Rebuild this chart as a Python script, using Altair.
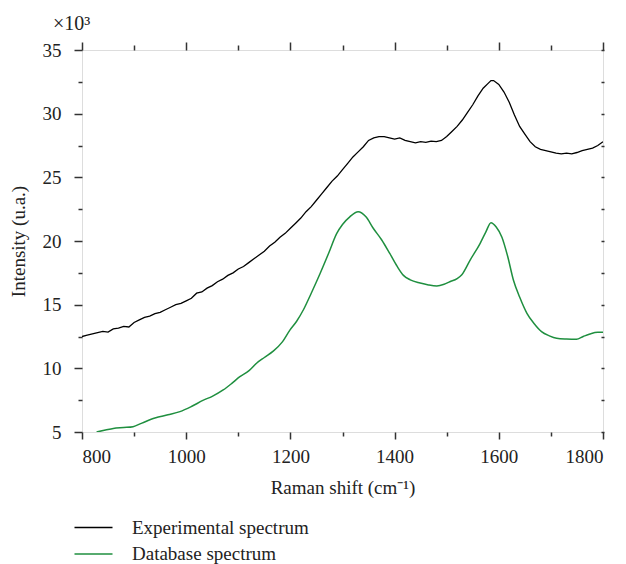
import altair as alt
import pandas as pd

# ---- data ----
exp_x = [800, 810, 820, 830, 840, 850, 860, 870, 880, 890, 900, 910, 920, 930, 940, 950,
         960, 970, 980, 990, 1000, 1010, 1020, 1030, 1040, 1050, 1060, 1070, 1080, 1090,
         1100, 1110, 1120, 1130, 1140, 1150, 1160, 1170, 1180, 1190, 1200, 1210, 1220,
         1230, 1240, 1250, 1260, 1270, 1280, 1290, 1300, 1310, 1320, 1330, 1340, 1350,
         1360, 1370, 1380, 1390, 1400, 1410, 1420, 1430, 1440, 1450, 1460, 1470, 1480,
         1490, 1500, 1510, 1520, 1530, 1540, 1550, 1560, 1570, 1580, 1585, 1590, 1600,
         1610, 1620, 1630, 1640, 1650, 1660, 1670, 1680, 1690, 1700, 1710, 1720, 1730,
         1740, 1750, 1760, 1770, 1780, 1790, 1800]
exp_y = [12.5, 12.6, 12.7, 12.8, 12.9, 12.85, 13.1, 13.15, 13.3, 13.25, 13.6, 13.8, 14.0,
         14.1, 14.3, 14.4, 14.6, 14.8, 15.0, 15.1, 15.3, 15.5, 15.9, 16.0, 16.3, 16.5,
         16.8, 17.0, 17.3, 17.5, 17.8, 18.0, 18.3, 18.6, 18.9, 19.2, 19.6, 19.9, 20.3,
         20.6, 21.0, 21.4, 21.8, 22.3, 22.7, 23.2, 23.7, 24.2, 24.7, 25.1, 25.6, 26.1,
         26.6, 27.0, 27.4, 27.9, 28.1, 28.2, 28.2, 28.1, 28.0, 28.1, 27.9, 27.8, 27.7,
         27.8, 27.75, 27.85, 27.8, 27.9, 28.2, 28.6, 29.0, 29.5, 30.1, 30.7, 31.4, 32.0,
         32.4, 32.6, 32.6, 32.3, 31.7, 30.9, 29.9, 29.0, 28.4, 27.8, 27.4, 27.2, 27.1,
         27.0, 26.9, 26.85, 26.9, 26.85, 26.95, 27.1, 27.2, 27.3, 27.5, 27.8]

db_x = [828, 845, 860, 880, 898, 915, 940, 965, 988, 1010, 1033, 1050, 1071, 1087, 1103,
        1120, 1135, 1150, 1167, 1185, 1199, 1212, 1225, 1240, 1257, 1273, 1289, 1300,
        1314, 1330, 1345, 1359, 1375, 1391, 1405, 1417, 1430, 1449, 1465, 1481, 1495,
        1506, 1520, 1529, 1545, 1564, 1575, 1585, 1595, 1606, 1617, 1628, 1640, 1654,
        1668, 1682, 1697, 1711, 1730, 1749, 1762, 1775, 1790, 1800]
db_y = [5.0, 5.15, 5.28, 5.35, 5.42, 5.7, 6.1, 6.35, 6.6, 7.0, 7.5, 7.8, 8.3, 8.8, 9.35,
        9.8, 10.4, 10.85, 11.35, 12.1, 13.0, 13.7, 14.6, 15.9, 17.45, 19.0, 20.6, 21.3,
        21.9, 22.3, 21.9, 21.0, 20.1, 19.0, 18.0, 17.3, 16.95, 16.7, 16.55, 16.47, 16.6,
        16.8, 17.05, 17.35, 18.5, 19.8, 20.7, 21.44, 21.1, 20.3, 18.8, 16.94, 15.6, 14.32,
        13.5, 12.88, 12.55, 12.36, 12.3, 12.28, 12.5, 12.7, 12.83, 12.83]

series_names = ["Experimental spectrum", "Database spectrum"]
series_colors = ["#000000", "#1f8f3f"]

x_ticks = list(range(800, 1801, 100))
y_ticks = [5 + 2.5 * i for i in range(13)]

df_exp = pd.DataFrame({"x": exp_x, "y": exp_y, "series": series_names[0]})
df_db = pd.DataFrame({"x": db_x, "y": db_y, "series": series_names[1]})

FONT = "Liberation Serif"
TXT = "#222222"
AX = "#333333"

x_scale = alt.Scale(domain=[800, 1800], nice=False, zero=False)
y_scale = alt.Scale(domain=[5, 35], nice=False, zero=False)
color = alt.Color(
    "series:N",
    scale=alt.Scale(domain=series_names, range=series_colors),
    legend=alt.Legend(
        title=None, orient="none", legendX=1, legendY=467,
        symbolType="M-2,0L2,0", symbolSize=361, symbolStrokeWidth=1.5,
        labelFont=FONT, labelFontSize=19, labelColor=TXT, labelOffset=28,
        labelLimit=0, rowPadding=5.5, direction="vertical",
    ),
)

exp_line = alt.Chart(df_exp).mark_line(strokeWidth=1.3, clip=True).encode(
    x=alt.X("x:Q", scale=x_scale, title="Raman shift (cm⁻¹)",
            axis=alt.Axis(orient="bottom", values=x_ticks, grid=False, domain=False,
                          tickSize={"condition": {"test": "datum.value % 200 !== 0", "value": 4}, "value": 7},
                          labelExpr="datum.value % 200 === 0 ? datum.label : ''",
                          format="d", labelPadding=8, titlePadding=12,
                          labelFont=FONT, labelFontSize=19, labelColor=TXT,
                          titleFont=FONT, titleFontSize=19, titleFontWeight="normal", titleColor=TXT,
                          tickColor=AX, tickWidth=1.5)),
    y=alt.Y("y:Q", scale=y_scale, title="Intensity (u.a.)",
            axis=alt.Axis(orient="left", values=y_ticks, grid=False, domain=False,
                          tickSize={"condition": {"test": "datum.value % 5 !== 0", "value": 4}, "value": 8},
                          labelExpr="datum.value % 5 === 0 ? datum.label : ''",
                          format="d", labelPadding=13, titlePadding=14,
                          labelFont=FONT, labelFontSize=19, labelColor=TXT,
                          titleFont=FONT, titleFontSize=19, titleFontWeight="normal", titleColor=TXT,
                          tickColor=AX, tickWidth=1.5)),
    color=color,
)

db_line = alt.Chart(df_db).mark_line(strokeWidth=1.5, interpolate="monotone", clip=True).encode(
    x=alt.X("x:Q", scale=x_scale, title=None,
            axis=alt.Axis(orient="top", values=x_ticks, grid=False, domain=False, labels=False,
                          tickSize={"condition": {"test": "datum.value % 200 !== 0", "value": 5}, "value": 8},
                          tickColor=AX, tickWidth=1.5)),
    y=alt.Y("y:Q", scale=y_scale, title=None,
            axis=alt.Axis(orient="right", values=y_ticks, grid=False, domain=False, labels=False,
                          tickSize=3, offset=-2, tickColor=AX, tickWidth=1.5)),
    color=color,
)

chart = (
    alt.layer(exp_line, db_line)
    .resolve_scale(x="shared", y="shared", color="shared")
    .resolve_axis(x="independent", y="independent")
    .properties(
        width=521, height=382,
        autosize=alt.AutoSizeParams(type="none"),
        padding={"left": 82, "top": 50, "right": 23, "bottom": 132},
        title=alt.TitleParams("×10³", anchor="start", frame="group", dx=-29, dy=22, offset=13,
                              baseline="alphabetic", font=FONT, fontSize=20,
                              fontWeight="normal", color=TXT),
    )
    .configure_view(stroke="#404040", strokeWidth=1.5)
    .configure(background="white")
)

chart.save("out.html", embed_options={"renderer": "svg", "actions": False})
